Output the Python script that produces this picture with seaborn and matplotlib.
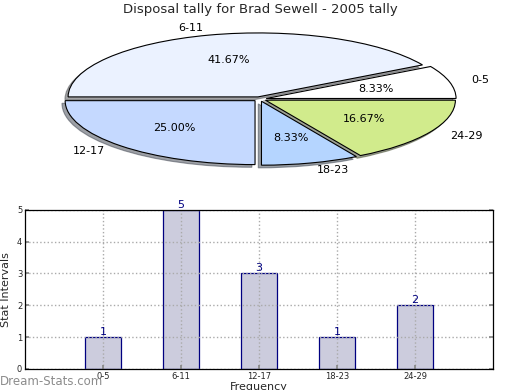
import matplotlib
matplotlib.use("Agg")
import matplotlib.pyplot as plt
import seaborn as sns
import pandas as pd

categories = ["0-5", "6-11", "12-17", "18-23", "24-29"]
counts = [1, 5, 3, 1, 2]
slice_colors = ["#ffffff", "#ebf2ff", "#c5d9ff", "#b5d5ff", "#d1eb8c"]
title = "Disposal tally for Brad Sewell - 2005 tally"

sns.set_theme(style="white")
plt.rcParams["font.family"] = ["DejaVu Sans"]

fig = plt.figure(figsize=(5.2, 3.9), dpi=100)

# Pie (elliptical)
axp = fig.add_axes([0.043, 0.541, 0.913, 0.41])
explode = [0.035] * len(counts)
wedges, texts, autotexts = axp.pie(
    counts, labels=categories, colors=slice_colors, explode=explode,
    autopct="%.2f%%", startangle=0, counterclock=True,
    shadow={"ox": -0.012, "oy": -0.03, "shade": 0.7},
    labeldistance=1.12, pctdistance=0.6,
    wedgeprops=dict(edgecolor="black", linewidth=0.8),
    textprops=dict(fontsize=8, color="black"))
axp.set_aspect("auto")
axp.set_xlim(-1.25, 1.25)
axp.set_ylim(-1.25, 1.25)
fig.text(0.5, 1 - 10 / 390, title, fontsize=9.5, ha="center", va="center")

# Bar chart
axb = fig.add_axes([0.048, 0.054, 0.9, 0.408])
df = pd.DataFrame({"cat": categories, "count": counts})
sns.barplot(data=df, x="cat", y="count", ax=axb, color="#ccccdd",
            edgecolor="#000080", linewidth=0.9, width=0.46, saturation=1)
for i, v in enumerate(counts):
    axb.text(i, v, str(v), ha="center", va="bottom", color="#000080", fontsize=8)
axb.set_xlim(-1, 5)
axb.set_ylim(0, 5)
axb.set_yticks(range(0, 6))
axb.grid(True, linestyle=":", color="#aaaaaa", linewidth=1)
axb.set_axisbelow(False)
for s in axb.spines.values():
    s.set_color("black")
    s.set_linewidth(0.9)
    s.set_zorder(5)
axb.tick_params(axis="both", labelsize=6, direction="in", length=3,
                right=True, left=True, bottom=True, color="#888888", pad=2)
axb.set_xlabel("Frequency", fontsize=8, labelpad=1)
axb.set_ylabel("Stat Intervals", fontsize=8, labelpad=4)

fig.text(0.0, 0.004, "Dream-Stats.com", color="#8c8c8c", fontsize=8.5,
         ha="left", va="bottom")

fig.savefig("out.png", dpi=100)
